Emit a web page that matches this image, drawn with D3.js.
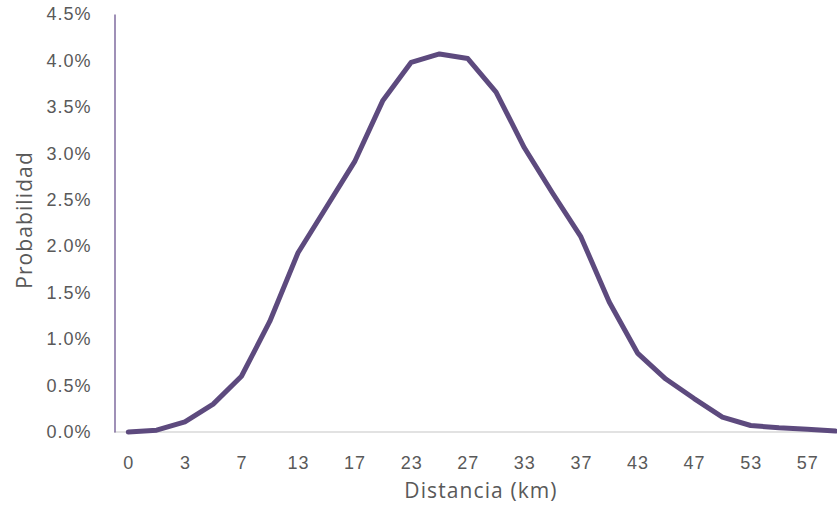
<!DOCTYPE html>
<html>
<head>
<meta charset="utf-8">
<script src="https://cdn.jsdelivr.net/npm/d3@7"></script>
<style>
  body { margin: 0; background: #fff; }
  svg { display: block; font-family: "Open Sans", sans-serif; }
</style>
</head>
<body>
<div id="container"></div>
<script>
// distance categories (km), every other one labelled on the axis
let categories = [0, 2, 3, 5, 7, 10, 13, 15, 17, 20, 23, 25, 27, 30, 33, 35, 37, 40, 43, 45, 47, 50, 53, 55, 57, 60];
// probability per category (fraction)
let probability = [0.0000, 0.0002, 0.0011, 0.0030, 0.0060, 0.0119, 0.0193, 0.0242, 0.0291, 0.0357,
    0.0398, 0.0407, 0.0402, 0.0366, 0.0306, 0.0257, 0.0210, 0.0140, 0.0085, 0.0057,
    0.0036, 0.0016, 0.0007, 0.00045, 0.0003, 0.0001];
let yTicks = [0, 0.005, 0.01, 0.015, 0.02, 0.025, 0.03, 0.035, 0.04, 0.045];

let WIDTH = 837;
let HEIGHT = 520;
let LINE_COLOR = "#5d4a7e";
let AXIS_COLOR = "#7f6b9f";
let TEXT_COLOR = "#595959";

let svg = d3.select("#container")
    .append("svg")
    .attr("width", WIDTH)
    .attr("height", HEIGHT);

let x = d3.scalePoint()
    .domain(categories)
    .range([128.3, 128.3 + 28.29 * (categories.length - 1)]);

let y = d3.scaleLinear()
    .domain([0, 0.045])
    .range([432, 14]);

// horizontal baseline
svg.append("line")
    .attr("x1", 114).attr("x2", WIDTH)
    .attr("y1", y(0)).attr("y2", y(0))
    .attr("stroke", "#d9d9d9")
    .attr("stroke-width", 1.5);

// y axis
let yAxis = d3.axisLeft(y)
    .tickValues(yTicks)
    .tickSize(0)
    .tickPadding(23)
    .tickFormat(d3.format(".1%"));
let gy = svg.append("g")
    .attr("transform", "translate(114.5,0)")
    .call(yAxis);
gy.select(".domain").attr("stroke", AXIS_COLOR).attr("stroke-width", 1.5);
gy.selectAll("text")
    .attr("fill", TEXT_COLOR)
    .style("font-size", "18px")
    .style("letter-spacing", "1px");

// x axis
let xAxis = d3.axisBottom(x)
    .tickValues(categories.filter((d, i) => i % 2 === 0))
    .tickSize(0)
    .tickPadding(24);
let gx = svg.append("g")
    .attr("transform", "translate(0," + y(0) + ")")
    .call(xAxis);
gx.select(".domain").remove();
gx.selectAll("text")
    .attr("fill", TEXT_COLOR)
    .style("font-size", "18px")
    .style("letter-spacing", "1px");

// series line
let line = d3.line()
    .x((d, i) => x(categories[i]))
    .y(d => y(d));
svg.append("path")
    .datum(probability)
    .attr("d", line)
    .attr("fill", "none")
    .attr("stroke", LINE_COLOR)
    .attr("stroke-width", 5)
    .attr("stroke-linejoin", "round")
    .attr("stroke-linecap", "round");

// axis titles
svg.append("text")
    .attr("x", 481)
    .attr("y", 498)
    .attr("text-anchor", "middle")
    .attr("fill", TEXT_COLOR)
    .style("font-size", "21px")
    .style("letter-spacing", "1.1px")
    .text("Distancia (km)");
svg.append("text")
    .attr("transform", "translate(32,220) rotate(-90)")
    .attr("text-anchor", "middle")
    .attr("fill", TEXT_COLOR)
    .style("font-size", "21px")
    .style("letter-spacing", "1.1px")
    .text("Probabilidad");
</script>
</body>
</html>
